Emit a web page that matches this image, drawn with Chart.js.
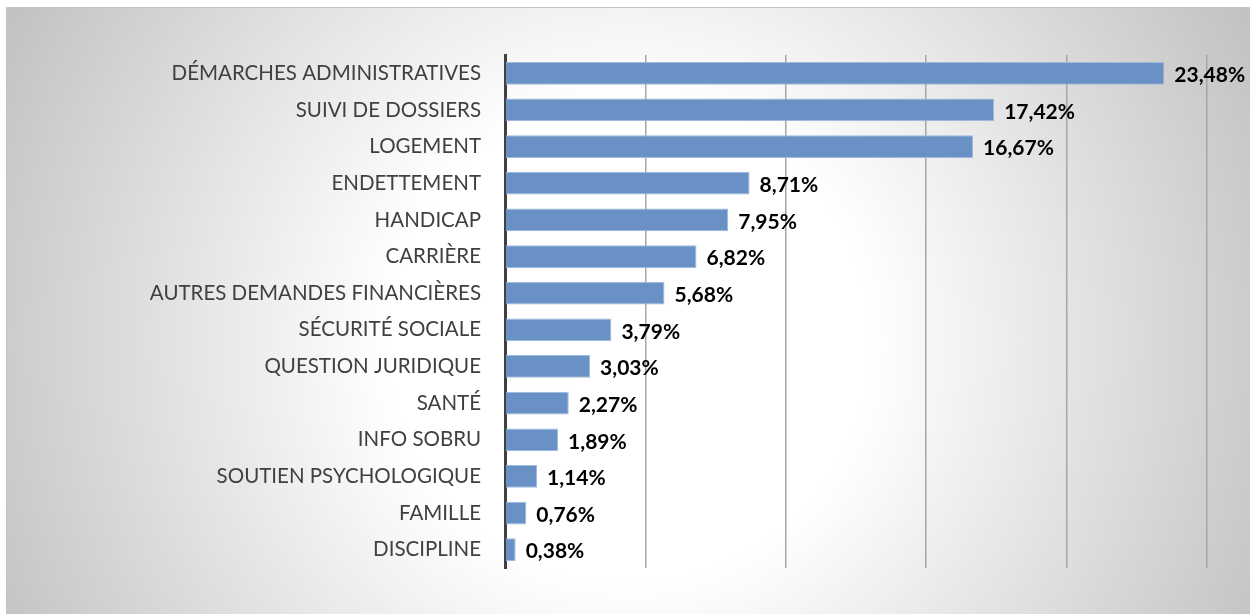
<!DOCTYPE html>
<html>
<head>
<meta charset="utf-8">
<script src="https://cdn.jsdelivr.net/npm/chart.js@4"></script>
<style>
  html, body { margin: 0; padding: 0; background: #fff; }
  #box {
    position: absolute; left: 6px; top: 7px; width: 1244px; height: 607px;
    border-top: 1px solid #c4c4c4; border-left: 1px solid #c4c4c4;
    background: radial-gradient(circle 700px at 50% 55%, #ffffff 0px, #ffffff 240px, #c2c2c2 700px);
  }
  #chart { display: block; }
</style>
</head>
<body>
<div id="box"><canvas id="chart" width="1243" height="606"></canvas></div>
<script>
// categories and values (%)
const categories = [
  "DÉMARCHES ADMINISTRATIVES", "SUIVI DE DOSSIERS", "LOGEMENT", "ENDETTEMENT",
  "HANDICAP", "CARRIÈRE", "AUTRES DEMANDES FINANCIÈRES", "SÉCURITÉ SOCIALE",
  "QUESTION JURIDIQUE", "SANTÉ", "INFO SOBRU", "SOUTIEN PSYCHOLOGIQUE",
  "FAMILLE", "DISCIPLINE"
];
const shares = [23.48, 17.42, 16.67, 8.71, 7.95, 6.82, 5.68, 3.79, 3.03, 2.27, 1.89, 1.14, 0.76, 0.38];

// value labels drawn next to each bar
const valueLabels = {
  id: "valueLabels",
  afterDatasetsDraw(chart) {
    const ctx = chart.ctx;
    const meta = chart.getDatasetMeta(0);
    ctx.save();
    ctx.font = "bold 21px Lato";
    ctx.fillStyle = "#000";
    ctx.textBaseline = "middle";
    meta.data.forEach((bar, i) => {
      const txt = shares[i].toFixed(2).replace(".", ",") + "%";
      ctx.fillText(txt, bar.x + 10, bar.y + 2);
    });
    ctx.restore();
  }
};

new Chart(document.getElementById("chart"), {
  type: "bar",
  data: {
    labels: categories,
    datasets: [{
      data: shares,
      backgroundColor: "#6991c5",
      borderColor: "#9dbbe0",
      borderWidth: 1,
      barPercentage: 0.62,
      categoryPercentage: 1
    }]
  },
  plugins: [valueLabels],
  options: {
    indexAxis: "y",
    responsive: false,
    animation: false,
    layout: { padding: { top: 47, bottom: 46, right: 43, left: 0 } },
    plugins: { legend: { display: false }, tooltip: { enabled: false } },
    scales: {
      x: {
        min: 0, max: 25,
        ticks: { display: false, stepSize: 5 },
        grid: { color: "#a6a6a6", lineWidth: 1.5, drawTicks: false },
        border: { display: false },
        afterFit(s) { s.height = 0; }
      },
      y: {
        ticks: {
          color: "#404040",
          padding: 24,
          font: { size: 20.5, family: "Lato" }
        },
        grid: { display: false, drawTicks: false },
        border: { color: "#404040", width: 3 },
        afterFit(s) { s.width = 498; }
      }
    }
  }
});
</script>
</body>
</html>
